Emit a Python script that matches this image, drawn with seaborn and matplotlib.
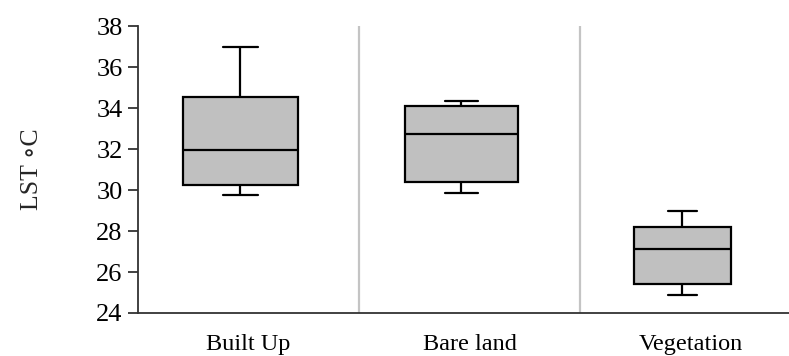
import numpy as np
import pandas as pd
import matplotlib
matplotlib.use("Agg")
import matplotlib.pyplot as plt
import matplotlib.transforms as mtransforms
import seaborn as sns

# Land-cover classes and their LST five-number summaries (°C)
categories = ["Built Up", "Bare land", "Vegetation"]
lst_min = [29.77, 29.85, 24.88]
lst_q1 = [30.25, 30.41, 25.41]
lst_median = [31.93, 32.74, 27.12]
lst_q3 = [34.53, 34.12, 28.19]
lst_max = [37.00, 34.36, 29.00]
y_ticks = [24, 26, 28, 30, 32, 34, 36, 38]

records = []
for i, cat in enumerate(categories):
    for v in (lst_min[i], lst_q1[i], lst_median[i], lst_q3[i], lst_max[i]):
        records.append({"class": cat, "lst": v})
df = pd.DataFrame(records)

sns.set_theme(style="white")
plt.rcParams["font.family"] = ["Liberation Serif", "DejaVu Serif"]

fig = plt.figure(figsize=(7.89, 3.56), dpi=100)
ax = fig.add_axes([0.1749, 0.1208, 0.8403, 0.806])

box_widths = [0.516, 0.512, 0.44]
cap_widths = [0.154, 0.150, 0.127]
box_shift_px = -8

for cat, w, cw in zip(categories, box_widths, cap_widths):
    n_patch, n_line = len(ax.patches), len(ax.lines)
    sns.boxplot(
        data=df[df["class"] == cat], x="class", y="lst", order=categories,
        width=w, whis=(0, 100), color="#c0c0c0", linecolor="black",
        linewidth=1.6, saturation=1, capwidths=cw, ax=ax,
        boxprops=dict(facecolor="#c0c0c0", edgecolor="black"),
    )
    shift = mtransforms.ScaledTranslation(box_shift_px / 100, 0, fig.dpi_scale_trans)
    for art in ax.patches[n_patch:] + ax.lines[n_line:]:
        art.set_transform(art.get_transform() + shift)

# Light grey separators between the classes
for xs in (0.5, 1.5):
    ax.axvline(xs, color="#c4c4c4", lw=1.6, zorder=0)

ax.set_xlim(-0.5, 2.5)
ax.set_ylim(24, 38)
ax.set_yticks(y_ticks)
ax.set_yticklabels([str(t) for t in y_ticks], fontsize=19)
ax.set_xticks(range(len(categories)))
ax.set_xticklabels(categories, fontsize=17.5)
ax.set_xlabel("")
ax.set_ylabel("LST \u2218C", fontsize=18.5)
ax.yaxis.set_label_coords(-0.143, 0.5)

for side in ("top", "right"):
    ax.spines[side].set_visible(False)
for side in ("left", "bottom"):
    ax.spines[side].set_color("#333333")
    ax.spines[side].set_linewidth(1.3)

ax.tick_params(axis="y", direction="out", length=7, width=1.3, color="#333333",
               pad=4, left=True, labelcolor="black")
ax.tick_params(axis="x", length=0, pad=15, labelcolor="black")

fig.savefig("out.png", dpi=100)
